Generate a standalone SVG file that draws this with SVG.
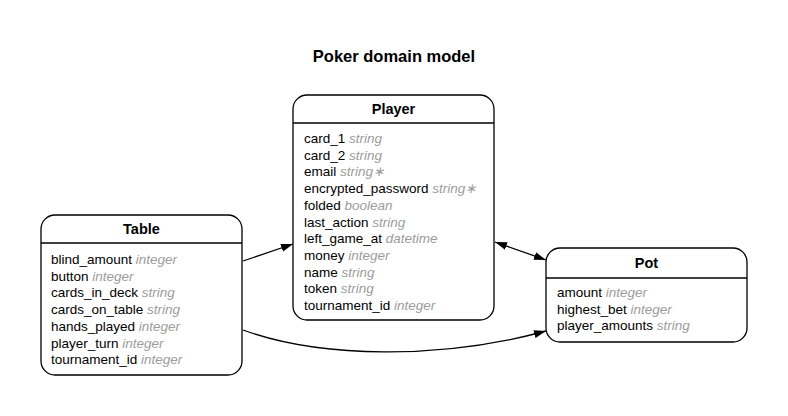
<svg xmlns="http://www.w3.org/2000/svg" width="788" height="416" viewBox="0 0 788 416">
<defs>
<style>
.box{fill:#fff;stroke:#000;stroke-width:1.3}
.div{stroke:#000;stroke-width:1.3}
.ttl{font-family:"Liberation Sans",Arial,sans-serif;font-size:14.5px;font-weight:bold;text-anchor:middle;fill:#000}
.row{font-family:"Liberation Sans",Arial,sans-serif;font-size:13.5px;fill:#000}
.typ{font-style:italic;fill:#9c9c9c}
.edge{fill:none;stroke:#000;stroke-width:1.3}
</style>
<marker id="ah" viewBox="0 0 12 10" refX="12" refY="5" markerWidth="12" markerHeight="10" markerUnits="userSpaceOnUse" orient="auto-start-reverse">
<path d="M0,1 L12,5 L0,9 Z" fill="#000"/>
</marker>
</defs>
<rect width="788" height="416" fill="#fff"/>
<text x="394" y="62" style="font-family:'Liberation Sans',Arial,sans-serif;font-size:16.5px;font-weight:bold;text-anchor:middle">Poker domain model</text>

<g id="edges">
<path class="edge" d="M243,261 L293,244" marker-end="url(#ah)"/>
<path class="edge" d="M495,242 L546,260" marker-start="url(#ah)" marker-end="url(#ah)"/>
<path class="edge" d="M243,330 C320,358 440,360 546,331" marker-end="url(#ah)"/>
</g>

<g id="Player">
<rect class="box" x="293" y="95" width="201" height="225" rx="14"/>
<line class="div" x1="293" y1="123" x2="494" y2="123"/>
<text class="ttl" x="393.5" y="114">Player</text>
<text class="row" x="304" y="143">card_1 <tspan class="typ">string</tspan></text>
<text class="row" x="304" y="159.7">card_2 <tspan class="typ">string</tspan></text>
<text class="row" x="304" y="176.4">email <tspan class="typ">string∗</tspan></text>
<text class="row" x="304" y="193.1">encrypted_password <tspan class="typ">string∗</tspan></text>
<text class="row" x="304" y="209.8">folded <tspan class="typ">boolean</tspan></text>
<text class="row" x="304" y="226.5">last_action <tspan class="typ">string</tspan></text>
<text class="row" x="304" y="243.2">left_game_at <tspan class="typ">datetime</tspan></text>
<text class="row" x="304" y="259.9">money <tspan class="typ">integer</tspan></text>
<text class="row" x="304" y="276.6">name <tspan class="typ">string</tspan></text>
<text class="row" x="304" y="293.3">token <tspan class="typ">string</tspan></text>
<text class="row" x="304" y="310">tournament_id <tspan class="typ">integer</tspan></text>
</g>

<g id="Table">
<rect class="box" x="41" y="215" width="201" height="160" rx="14"/>
<line class="div" x1="41" y1="243" x2="242" y2="243"/>
<text class="ttl" x="141.5" y="234">Table</text>
<text class="row" x="51" y="264">blind_amount <tspan class="typ">integer</tspan></text>
<text class="row" x="51" y="280.7">button <tspan class="typ">integer</tspan></text>
<text class="row" x="51" y="297.4">cards_in_deck <tspan class="typ">string</tspan></text>
<text class="row" x="51" y="314.1">cards_on_table <tspan class="typ">string</tspan></text>
<text class="row" x="51" y="330.8">hands_played <tspan class="typ">integer</tspan></text>
<text class="row" x="51" y="347.5">player_turn <tspan class="typ">integer</tspan></text>
<text class="row" x="51" y="364.2">tournament_id <tspan class="typ">integer</tspan></text>
</g>

<g id="Pot">
<rect class="box" x="546" y="248" width="201" height="94" rx="14"/>
<line class="div" x1="546" y1="278" x2="747" y2="278"/>
<text class="ttl" x="646.5" y="268">Pot</text>
<text class="row" x="557" y="297">amount <tspan class="typ">integer</tspan></text>
<text class="row" x="557" y="313.7">highest_bet <tspan class="typ">integer</tspan></text>
<text class="row" x="557" y="330.4">player_amounts <tspan class="typ">string</tspan></text>
</g>
</svg>
